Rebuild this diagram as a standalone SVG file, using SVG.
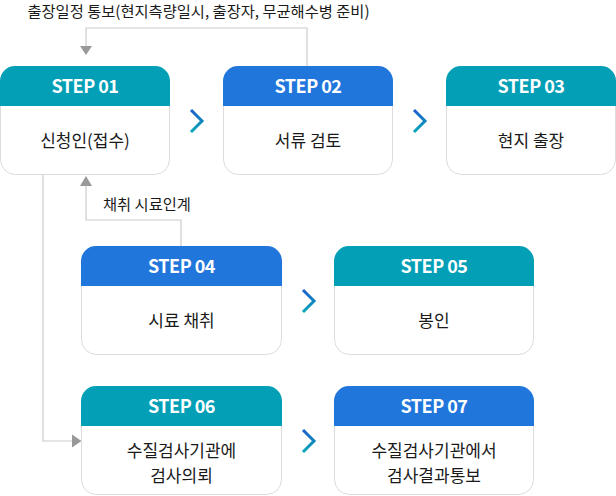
<svg xmlns="http://www.w3.org/2000/svg" width="616" height="496" viewBox="0 0 616 496">
<defs>
<linearGradient id="chev" x1="0" y1="0" x2="0" y2="1">
<stop offset="0" stop-color="#1e5fc9"/>
<stop offset="1" stop-color="#07a8b8"/>
</linearGradient>
<style>
.box{fill:#fff;stroke:#dcdcdc;stroke-width:1}
.teal{fill:#029fb7}
.blue{fill:#2176dc}
.hd{font-family:"Noto Sans CJK KR","Noto Sans",sans-serif;font-weight:700;font-size:18px;fill:#fff;text-anchor:middle;letter-spacing:-0.5px}
.bd{font-family:"Noto Sans CJK KR","Noto Sans",sans-serif;font-size:17px;fill:#1a1a1a;text-anchor:middle}
.lb{font-family:"Noto Sans CJK KR","Noto Sans",sans-serif;font-size:15.3px;fill:#1a1a1a}
.ln{fill:none;stroke:#cccccc;stroke-width:1.2}
.ah{fill:#999}
.ch{fill:none;stroke:url(#chev);stroke-width:3}
</style>
</defs>
<g id="connectors">
<polyline class="ln" points="307,66 307,28 86,28 86,46"/>
<polygon class="ah" points="80,46 92,46 86,55"/>
<polyline class="ln" points="181,246 181,220 86,220 86,186"/>
<polygon class="ah" points="80,186 92,186 86,176"/>
<polyline class="ln" points="43,175 43,441 72,441"/>
<polygon class="ah" points="72,434.5 72,447.5 81.5,441"/>
<path class="ch" d="M191,110 L202,121 L191,132"/>
<path class="ch" d="M414,110 L425,121 L414,132"/>
<path class="ch" d="M303,290 L314,301 L303,312"/>
<path class="ch" d="M303,430 L314,441 L303,452"/>
</g>
<text class="lb" x="198.5" y="17" text-anchor="middle">출장일정 통보(현지측량일시, 출장자, 무균해수병 준비)</text>
<text class="lb" x="103" y="210">채취 시료인계</text>
<g id="step01">
<rect class="box" x="0.5" y="66.5" width="169" height="108" rx="15"/>
<path class="teal" d="M0,106 V81 A15,15 0 0 1 15,66 H155 A15,15 0 0 1 170,81 V106 Z"/>
<text class="hd" x="85" y="93">STEP 01</text>
<text class="bd" x="85" y="147">신청인(접수)</text>
</g>
<g id="step02">
<rect class="box" x="223.5" y="66.5" width="169" height="108" rx="15"/>
<path class="blue" d="M223,106 V81 A15,15 0 0 1 238,66 H378 A15,15 0 0 1 393,81 V106 Z"/>
<text class="hd" x="308" y="93">STEP 02</text>
<text class="bd" x="308" y="147">서류 검토</text>
</g>
<g id="step03">
<rect class="box" x="446.5" y="66.5" width="169" height="108" rx="15"/>
<path class="teal" d="M446,106 V81 A15,15 0 0 1 461,66 H601 A15,15 0 0 1 616,81 V106 Z"/>
<text class="hd" x="531" y="93">STEP 03</text>
<text class="bd" x="531" y="147">현지 출장</text>
</g>
<g id="step04">
<rect class="box" x="81.5" y="246.5" width="200" height="108" rx="15"/>
<path class="blue" d="M81,286 V261 A15,15 0 0 1 96,246 H267 A15,15 0 0 1 282,261 V286 Z"/>
<text class="hd" x="181.5" y="273">STEP 04</text>
<text class="bd" x="181.5" y="327">시료 채취</text>
</g>
<g id="step05">
<rect class="box" x="334.5" y="246.5" width="199" height="108" rx="15"/>
<path class="teal" d="M334,286 V261 A15,15 0 0 1 349,246 H519 A15,15 0 0 1 534,261 V286 Z"/>
<text class="hd" x="434" y="273">STEP 05</text>
<text class="bd" x="434" y="327">봉인</text>
</g>
<g id="step06">
<rect class="box" x="81.5" y="386.5" width="200" height="108" rx="15"/>
<path class="teal" d="M81,426 V401 A15,15 0 0 1 96,386 H267 A15,15 0 0 1 282,401 V426 Z"/>
<text class="hd" x="181.5" y="413">STEP 06</text>
<text class="bd" x="181.5" y="457">수질검사기관에</text>
<text class="bd" x="181.5" y="482">검사의뢰</text>
</g>
<g id="step07">
<rect class="box" x="334.5" y="386.5" width="199" height="108" rx="15"/>
<path class="blue" d="M334,426 V401 A15,15 0 0 1 349,386 H519 A15,15 0 0 1 534,401 V426 Z"/>
<text class="hd" x="434" y="413">STEP 07</text>
<text class="bd" x="434" y="457">수질검사기관에서</text>
<text class="bd" x="434" y="482">검사결과통보</text>
</g>
</svg>
